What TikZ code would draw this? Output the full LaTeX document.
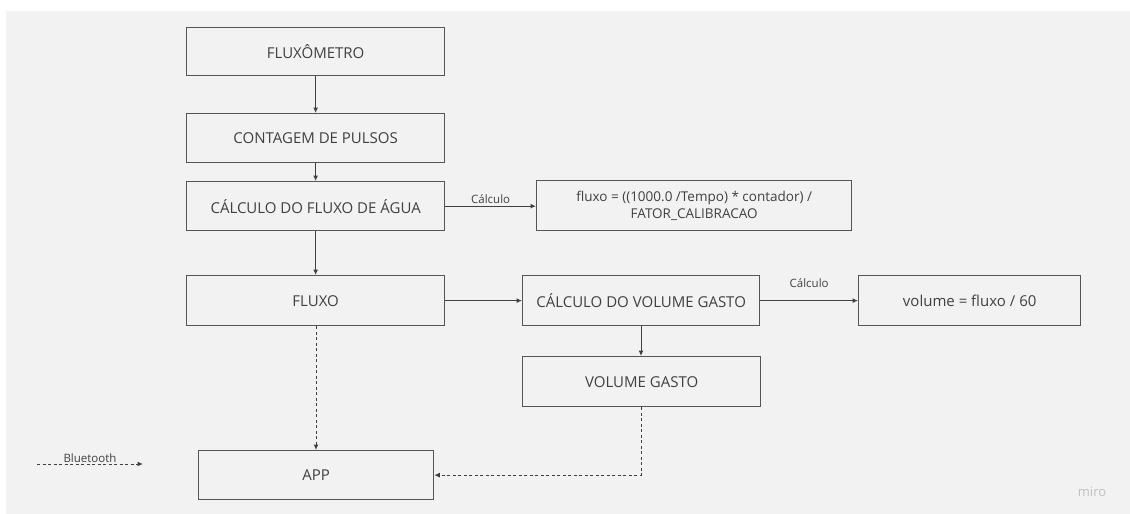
\documentclass[tikz,border=0pt]{standalone}
\usepackage{fontspec}
\setmainfont{Open Sans}
\usetikzlibrary{arrows.meta}
\definecolor{bg}{HTML}{F2F2F2}
\definecolor{edge}{HTML}{555555}
\definecolor{txt}{HTML}{404040}
\tikzset{
  x=1pt, y=-1pt,
  box/.style={draw=edge, line width=1.3pt, fill=bg, text=txt, font=\fontsize{15}{18}\selectfont, inner sep=0pt, anchor=north west, align=center},
  conn/.style={draw=txt, line width=1pt, -{Latex[length=5.5pt,width=5pt]}},
  bt/.style={conn, dash pattern=on 3pt off 2.5pt},
  lbl/.style={text=txt, font=\fontsize{11.5}{13}\selectfont, inner sep=1pt}
}
\begin{document}
\begin{tikzpicture}
\useasboundingbox (0,0) rectangle (1130,514);
\fill[white] (0,0) rectangle (1130,514);
\fill[bg] (6,11) rectangle (1130,514);
\node[box, minimum width=258pt, minimum height=48pt] (flux) at (186,27) {FLUXÔMETRO};
\node[box, minimum width=258pt, minimum height=49pt] (cont) at (186,113) {CONTAGEM DE PULSOS};
\node[box, minimum width=258pt, minimum height=49pt] (calc) at (186,181) {CÁLCULO DO FLUXO DE ÁGUA};
\node[box, minimum width=315pt, minimum height=50pt, font=\fontsize{13.5}{17}\selectfont] (form) at (536,180) {fluxo = ((1000.0 /Tempo) * contador) /\\FATOR\_CALIBRACAO};
\node[box, minimum width=258pt, minimum height=50pt] (fluxo) at (186,275) {FLUXO};
\node[box, minimum width=237pt, minimum height=50pt] (cvol) at (522,275) {CÁLCULO DO VOLUME GASTO};
\node[box, minimum width=222pt, minimum height=50pt] (vol) at (858,275) {volume = fluxo / 60};
\node[box, minimum width=238pt, minimum height=50pt] (vg) at (522,356) {VOLUME GASTO};
\node[box, minimum width=235pt, minimum height=49pt] (app) at (198,450) {APP};
\draw[conn] (flux) -- (cont);
\draw[conn] (cont) -- (calc);
\draw[conn] (calc) -- (fluxo);
\draw[conn] (calc.east) -- node[lbl, above=1pt]{Cálculo} (form.west |- calc.east);
\draw[conn] (fluxo) -- (cvol);
\draw[conn] (cvol) -- node[lbl, above=12pt]{Cálculo} (vol);
\draw[conn] (cvol.south -| 641,0) -- (vg.north -| 641,0);
\draw[bt] (fluxo.south -| 316,0) -- (app.north -| 316,0);
\draw[bt] (vg.south -| 641,0) |- (app.east);
\coordinate (b1) at (37,464);
\coordinate (b2) at (143,464);
\draw[bt] (b1) -- node[lbl, above=0pt]{Bluetooth} (b2);
\node[text=black!25, font=\fontsize{13}{15}\selectfont] (miro) at (1092,492) {miro};
\end{tikzpicture}
\end{document}
